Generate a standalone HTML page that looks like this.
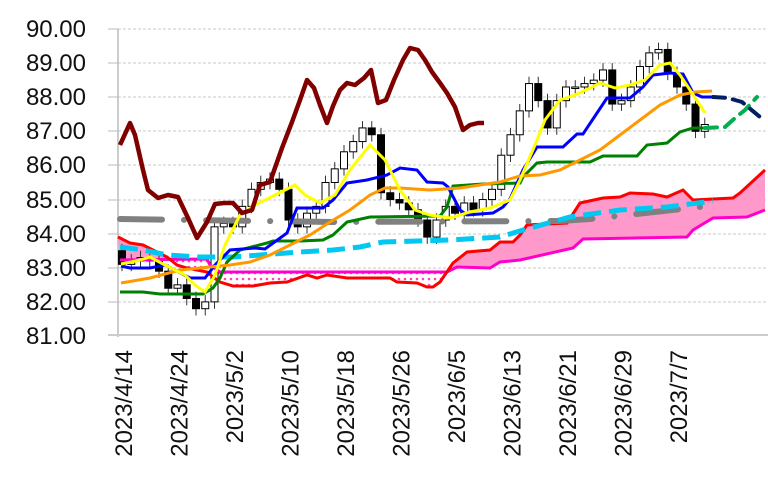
<!DOCTYPE html>
<html><head><meta charset="utf-8"><style>
html,body{margin:0;padding:0;background:#fff}
svg{display:block}
text{font-family:"Liberation Sans",sans-serif;fill:#111}
</style></head><body>
<svg id="s" width="768" height="487" viewBox="0 0 768 487" xmlns="http://www.w3.org/2000/svg">
<defs>
<pattern id="dots" width="6" height="6" patternUnits="userSpaceOnUse">
<rect width="6" height="6" fill="#fff"/><circle cx="3" cy="3" r="1.3" fill="#ff40c0"/>
</pattern>
<clipPath id="cA"><rect x="100" y="0" width="70" height="400"/><rect x="447" y="0" width="330" height="400"/></clipPath>
<clipPath id="cB"><rect x="170" y="0" width="277" height="400"/></clipPath>
</defs>
<g stroke="#c8c8c8" stroke-width="1" stroke-dasharray="3 2">
<line x1="118" x2="768" y1="29" y2="29"/><line x1="118" x2="768" y1="63" y2="63"/>
<line x1="118" x2="768" y1="97" y2="97"/><line x1="118" x2="768" y1="131" y2="131"/>
<line x1="118" x2="768" y1="165" y2="165"/><line x1="118" x2="768" y1="200" y2="200"/>
<line x1="118" x2="768" y1="234" y2="234"/><line x1="118" x2="768" y1="268" y2="268"/>
<line x1="118" x2="768" y1="302" y2="302"/>
</g>
<g stroke="#bbb" stroke-width="1">
<line x1="108" x2="118" y1="29" y2="29"/><line x1="108" x2="118" y1="63" y2="63"/>
<line x1="108" x2="118" y1="97" y2="97"/><line x1="108" x2="118" y1="131" y2="131"/>
<line x1="108" x2="118" y1="165" y2="165"/><line x1="108" x2="118" y1="200" y2="200"/>
<line x1="108" x2="118" y1="234" y2="234"/><line x1="108" x2="118" y1="268" y2="268"/>
<line x1="108" x2="118" y1="302" y2="302"/>
</g>
<line x1="118" x2="118" y1="29" y2="337" stroke="#bbb" stroke-width="1.5"/>
<line x1="108" x2="768" y1="335" y2="335" stroke="#ccc" stroke-width="2"/>
<g font-size="24" text-anchor="end">
<text x="86" y="37">90.00</text><text x="86" y="71">89.00</text><text x="86" y="105">88.00</text>
<text x="86" y="139">87.00</text><text x="86" y="173">86.00</text><text x="86" y="208">85.00</text>
<text x="86" y="242">84.00</text><text x="86" y="276">83.00</text><text x="86" y="310">82.00</text>
<text x="86" y="344">81.00</text>
</g>
<g font-size="24" text-anchor="end" id="dates"></g>

<polygon id="cloudA" clip-path="url(#cA)" fill="#ff99cc"/>
<polygon id="cloudB" clip-path="url(#cB)" fill="url(#dots)"/>

<g id="candles"></g>

<polyline fill="none" stroke="#ff00cc" stroke-width="3" id="spanB" points="120,260 207,259 210,265 220,272 360,272 447,272 457,267 490,268 500,262 520,260 573,248 583,239 687,237 693,230 713,218 747,217 765,210"/>
<polyline fill="none" stroke="#ff0000" stroke-width="3" id="spanA" points="118,237 130,243 143,245 153,250 167,257 177,265 187,268 197,270 207,272 213,277 220,282 233,286 253,286 270,283 287,282 307,275 317,278 327,275 347,278 367,278 390,278 397,282 417,283 427,287 433,287 440,282 453,263 467,252 490,250 500,242 513,242 520,235 527,225 567,223 580,203 603,198 620,197 630,193 653,194 667,197 683,190 693,200 733,198 740,193 765,170"/>
<polyline fill="none" stroke="#808080" stroke-width="6" stroke-linecap="round" stroke-dasharray="42 22 0.1 22" points="120,219 332,222 560,221 590,219 700,207"/>
<polyline fill="none" stroke="#00c8f0" stroke-width="5" stroke-dasharray="18 8" points="120,247 143,250 167,255 200,257 233,257 260,255 300,252 333,250 360,247 383,242 450,240 500,237 523,230 570,217 620,210 667,207 713,201"/>
<polyline fill="none" stroke="#008000" stroke-width="3" points="120,292 143,292 160,294 203,294 213,288 220,278 227,262 240,250 267,243 273,241 300,241 323,240 333,235 347,222 370,217 440,216 447,207 453,186 483,184 520,183 523,177 537,163 547,162 590,162 603,156 637,156 647,145 667,143 680,132 693,128 705,128"/>
<polyline fill="none" stroke="#00b050" stroke-width="4" stroke-linecap="round" stroke-dasharray="12 8" points="705,128 725,127 735,118 745,110 757,97"/>
<polyline fill="none" stroke="#0000ff" stroke-width="3" points="121,266 130,268 150,268 165,265 175,270 190,278 205,278 215,265 230,250 255,248 265,249 287,233 292,220 297,208 323,208 333,200 347,183 367,180 387,175 400,168 417,170 427,182 443,183 448,187 460,210 467,215 493,213 503,207 510,199 523,170 537,147 563,147 577,134 583,134 597,113 607,98 630,98 643,87 653,75 670,73 683,74 693,93 702,97 713,97"/>
<polyline fill="none" stroke="#002060" stroke-width="4" stroke-linecap="round" stroke-dasharray="12 8" points="713,97 728,98 742,102 760,117"/>
<polyline fill="none" stroke="#ff9900" stroke-width="3" points="121,283 150,278 180,270 200,268 230,265 250,262 270,255 290,245 310,235 330,222 350,210 370,195 385,188 400,188 430,190 460,188 480,185 500,182 520,176 540,175 560,170 580,160 600,150 620,135 640,120 660,105 680,95 695,92 712,91"/>
<polyline fill="none" stroke="#ffff00" stroke-width="3" points="121,264 140,260 150,257 165,265 185,275 195,285 205,292 215,275 225,245 240,215 255,205 275,195 295,185 305,195 320,203 335,195 350,170 370,145 385,160 400,190 415,210 430,215 450,218 470,212 490,208 510,200 520,180 535,145 545,120 560,100 575,95 590,88 600,83 615,88 630,85 645,80 660,65 670,63 680,75 690,90 705,113"/>
<polyline fill="none" stroke="#800000" stroke-width="4.5" stroke-linejoin="round" points="120,145 130,123 135,135 143,170 148,190 158,198 168,195 178,197 188,218 197,238 207,222 215,204 224,203 233,203 242,213 252,210 260,185 270,182 282,148 292,122 300,100 307,80 314,88 320,105 327,123 333,106 340,90 347,83 355,85 364,78 371,70 378,103 386,100 394,80 403,60 410,48 418,50 425,60 432,72 440,83 447,93 455,107 463,130 470,125 478,123 484,123"/>
</svg>
<script>
(function(){
var NS="http://www.w3.org/2000/svg";
function y(v){return 29+(90-v)*34.11;}
var c=[83.1,83.2,83.3,83.2,82.9,82.4,82.5,82.1,81.8,82.0,84.2,84.3,84.2,84.8,85.3,85.5,85.6,85.3,84.4,84.2,84.6,84.8,85.5,85.9,86.4,86.7,87.1,86.9,85.2,85.0,84.9,84.7,84.4,83.9,84.4,84.8,84.6,84.9,84.7,85.0,85.3,86.3,86.9,87.6,88.4,87.9,87.1,87.9,88.3,88.3,88.4,88.5,88.8,87.8,87.9,88.3,88.9,89.3,89.4,88.7,88.3,87.8,87.0,87.2];
var g=document.getElementById("candles");
for(var i=0;i<c.length;i++){
 var o=i==0?83.5:c[i-1], cl=c[i];
 var x=122+9.25*i, hi=Math.max(o,cl)+0.2, lo=Math.min(o,cl)-0.2;
 var l=document.createElementNS(NS,"line");
 l.setAttribute("x1",x);l.setAttribute("x2",x);l.setAttribute("y1",y(hi));l.setAttribute("y2",y(lo));
 l.setAttribute("stroke","#333");l.setAttribute("stroke-width","1");g.appendChild(l);
 var r=document.createElementNS(NS,"rect");
 var t=y(Math.max(o,cl)),b=y(Math.min(o,cl));if(b-t<1.5)b=t+1.5;
 r.setAttribute("x",x-3.5);r.setAttribute("width",7);r.setAttribute("y",t);r.setAttribute("height",b-t);
 r.setAttribute("fill",cl>=o?"#fff":"#000");r.setAttribute("stroke","#000");r.setAttribute("stroke-width","1");
 g.appendChild(r);
}
var d=["2023/4/14","2023/4/24","2023/5/2","2023/5/10","2023/5/18","2023/5/26","2023/6/5","2023/6/13","2023/6/21","2023/6/29","2023/7/7"];
var dg=document.getElementById("dates");
for(var k=0;k<d.length;k++){
 var cx=123+55.5*k+9;
 var tx=document.createElementNS(NS,"text");
 tx.setAttribute("transform","translate("+cx+",350) rotate(-90)");
 tx.textContent=d[k];dg.appendChild(tx);
}
function pts(id){return document.getElementById(id).getAttribute("points");}
var a=pts("spanA"),bp=pts("spanB").trim().split(/\s+/).reverse().join(" ");
var poly=a+" "+bp;
document.getElementById("cloudA").setAttribute("points",poly);
document.getElementById("cloudB").setAttribute("points",poly);
})();
</script>
</body></html>
